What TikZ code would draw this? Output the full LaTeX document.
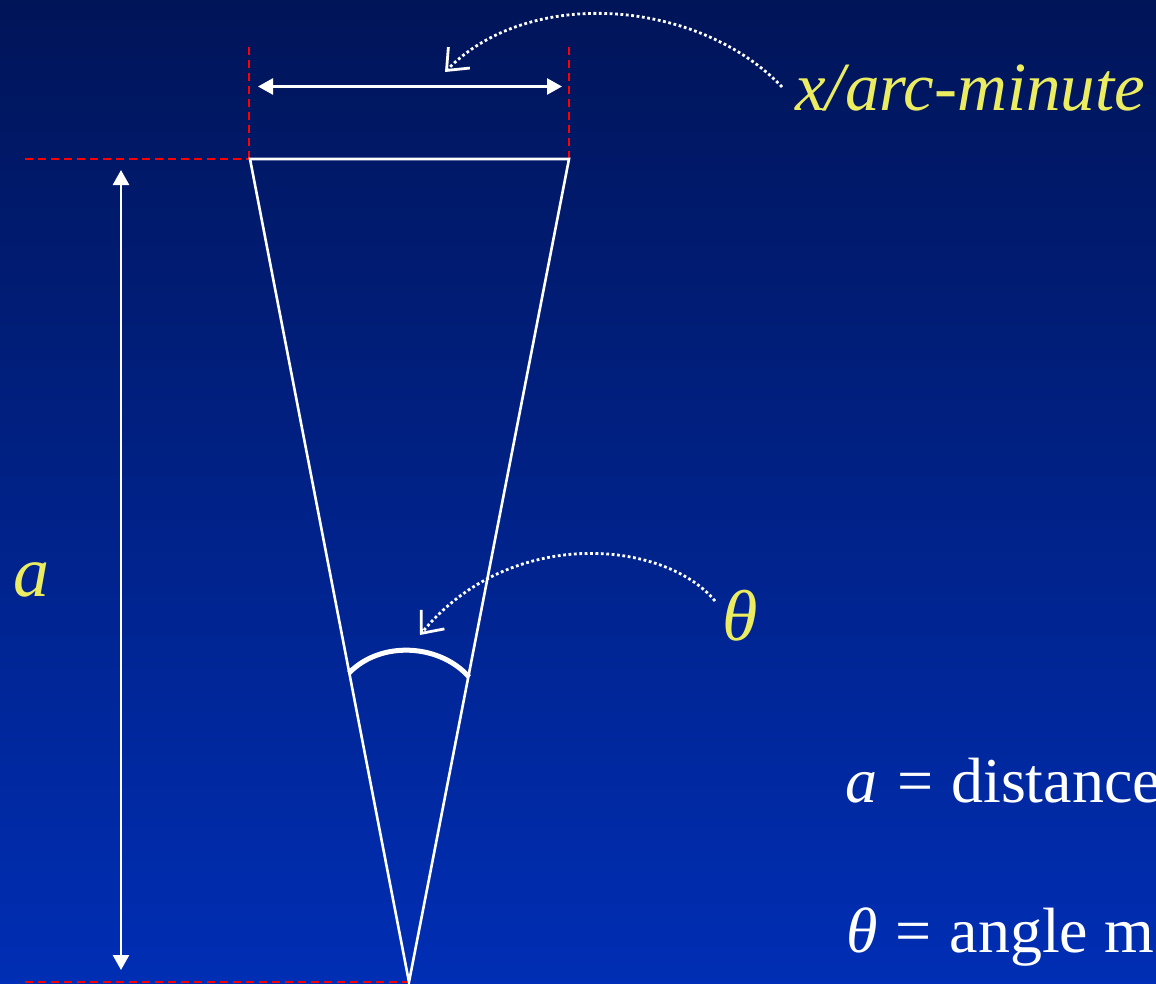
\documentclass[tikz,border=0pt]{standalone}
\usepackage{fontspec}
\setmainfont{Liberation Serif}
\usetikzlibrary{arrows.meta}
\definecolor{bgtop}{RGB}{0,20,88}
\definecolor{bgbot}{RGB}{0,46,180}
\definecolor{lblyellow}{RGB}{236,236,96}
\definecolor{guide}{RGB}{255,0,0}
\tikzset{
  guideline/.style={draw=guide, line width=2.8pt, dash pattern=on 8pt off 5pt},
  edgeline/.style={draw=white, line width=2.6pt},
  dimarrow/.style={draw=white, line width=2.6pt, {Triangle[length=15pt,width=16pt]}-{Triangle[length=15pt,width=16pt]}},
  pointer/.style={draw=white, line width=2.8pt, dash pattern=on 2.8pt off 2.6pt, -{Straight Barb[length=18pt,width=30pt,line width=2.8pt]}},
  ylabel/.style={text=lblyellow, inner sep=0pt, anchor=base west, font=\fontsize{72}{80}\selectfont\itshape},
  wlabel/.style={text=white, inner sep=0pt, anchor=base west, font=\fontsize{64}{70}\selectfont},
}
\begin{document}
\begin{tikzpicture}[x=1pt,y=-1pt]
\useasboundingbox (0,0) rectangle (1156,983);
\clip (0,0) rectangle (1156,983);
\shade[top color=bgtop, bottom color=bgbot] (0,0) rectangle (1156,983);

% key points
\coordinate (A) at (250,159);
\coordinate (B) at (569,159);
\coordinate (O) at (409,982);
\coordinate (Atop) at (249,47);
\coordinate (Btop) at (569,47);
\coordinate (Lt) at (25,159);
\coordinate (Lb) at (25,982);

% red guide lines
\draw[guideline] (Atop) -- (249,159);
\draw[guideline] (Btop) -- (B);
\draw[guideline] (Lt) -- (A);
\draw[guideline] (Lb) -- (O);

% triangle
\draw[edgeline, line join=miter] (A) -- (B) -- (O) -- cycle;

% dimension arrows
\coordinate (hL) at (258,86.5);
\coordinate (hR) at (562,86.5);
\draw[dimarrow] (hL) -- (hR);
\coordinate (vT) at (121,170);
\coordinate (vB) at (121,970);
\draw[dimarrow] (vT) -- (vB);

% angle arc
\coordinate (arcL) at (349,673);
\coordinate (arcR) at (469,677);
\draw[white, line width=5pt] (arcL) .. controls (381,640) and (440,644) .. (arcR);

% labels
\node[ylabel, font=\fontsize{69}{75}\selectfont\itshape] (xlab) at (795,110) {x/arc-minute};
\node[ylabel] (alab) at (13,596) {a};
\node[ylabel] (tlab) at (722,640) {θ};
\node[wlabel] (adef) at (845,802) {\itshape a\hspace{20pt}\upshape =\hspace{18pt}distance};
\node[wlabel] (tdef) at (846,952) {\itshape θ\hspace{18pt}\upshape =\hspace{18pt}angle m};

% dotted pointers
\coordinate (p1s) at (782,87);
\coordinate (p1e) at (445,72);
\draw[pointer] (p1s) .. controls (700,0) and (530,-15) .. (p1e);
\coordinate (p2s) at (715,601);
\coordinate (p2e) at (420,635);
\draw[pointer] (p2s) .. controls (665,540) and (510,525) .. (p2e);
\end{tikzpicture}
\end{document}
